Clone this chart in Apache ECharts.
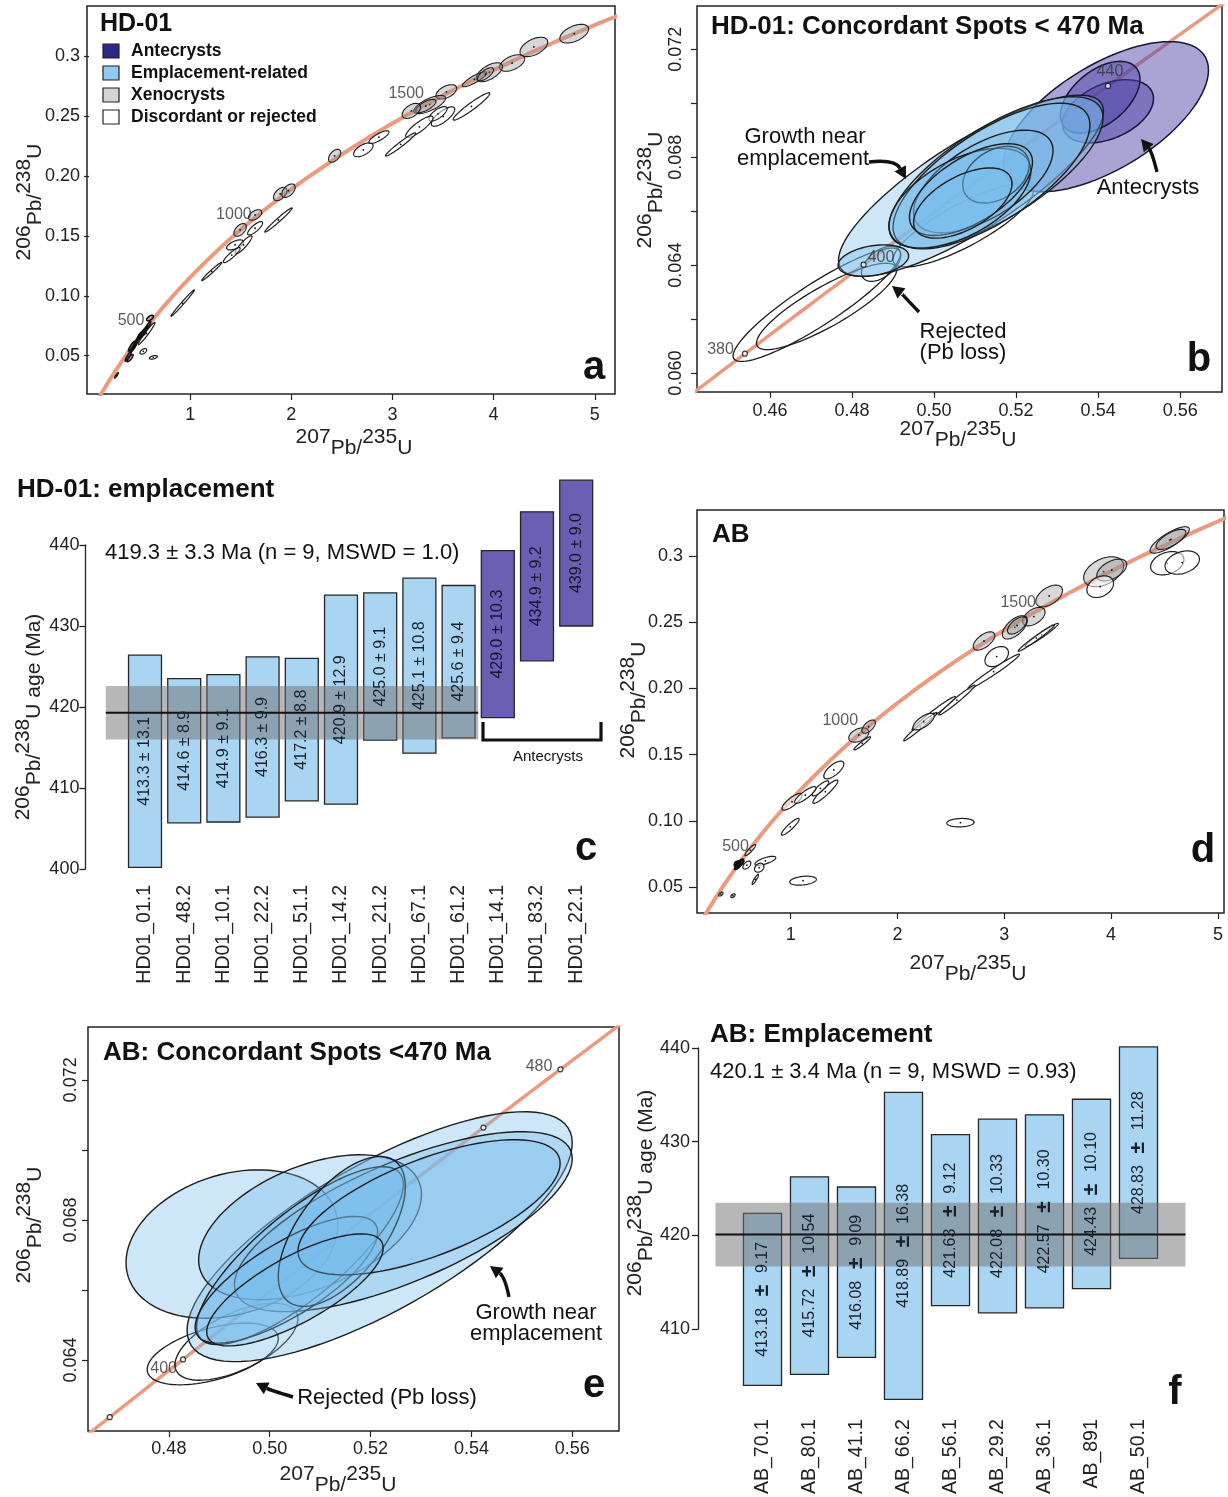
<!DOCTYPE html>
<html>
<head>
<meta charset="utf-8">
<title>Zircon U-Pb: HD-01 and AB</title>
<script src="https://cdn.jsdelivr.net/npm/echarts@6/dist/echarts.min.js"></script>
<style>
  html, body { margin: 0; padding: 0; background: #fff; }
  #chart { width: 1228px; height: 1497px; }
</style>
</head>
<body>
<div id="chart"></div>
<script>
const FONT = "'Liberation Sans', Arial, Helvetica, sans-serif";

// decay constants (per year) for the Wetherill concordia
const L238 = 1.55125e-10;
const L235 = 9.8485e-10;

// ---- ellipse data: [207Pb/235U, half-width, 206Pb/238U, half-height, rho] ----
// HD-01, all spots (panel a)
const hdXeno = [
  [4.797, 0.142, 0.3189, 0.0078, 0.5], [4.398, 0.137, 0.3078, 0.0081, 0.5],
  [4.183, 0.124, 0.2944, 0.0069, 0.5], [3.959, 0.129, 0.2867, 0.0079, 0.6],
  [3.810, 0.119, 0.2808, 0.0062, 0.85], [3.920, 0.080, 0.2850, 0.0055, 0.7],
  [3.533, 0.102, 0.2703, 0.0060, 0.5], [3.368, 0.157, 0.2597, 0.0076, 0.7],
  [3.330, 0.100, 0.2585, 0.0055, 0.7], [3.187, 0.091, 0.2544, 0.0063, 0.5],
  [2.428, 0.060, 0.2169, 0.0054, 0.5], [1.890, 0.066, 0.1850, 0.0056, 0.5],
  [1.972, 0.066, 0.1878, 0.0056, 0.5], [1.642, 0.066, 0.1675, 0.0044, 0.5],
  [1.494, 0.061, 0.1550, 0.0053, 0.5]
];
const hdDisc = [
  [3.781, 0.181, 0.2581, 0.0114, 0.95], [3.500, 0.116, 0.2497, 0.0081, 0.75],
  [3.450, 0.090, 0.2520, 0.0060, 0.7], [3.266, 0.135, 0.2411, 0.0089, 0.85],
  [3.081, 0.149, 0.2264, 0.0097, 0.97], [2.712, 0.096, 0.2219, 0.0058, 0.6],
  [2.866, 0.099, 0.2325, 0.0053, 0.8], [1.642, 0.074, 0.1564, 0.0056, 0.8],
  [1.444, 0.083, 0.1425, 0.0042, 0.6], [1.527, 0.083, 0.1425, 0.0076, 0.9],
  [1.411, 0.083, 0.1340, 0.0063, 0.9], [1.873, 0.135, 0.1633, 0.0101, 0.98],
  [1.213, 0.099, 0.1203, 0.0076, 0.98], [0.926, 0.116, 0.0939, 0.0111, 0.99],
  [0.569, 0.083, 0.0685, 0.0093, 0.97], [0.537, 0.033, 0.0536, 0.0023, 0.5],
  [0.636, 0.040, 0.0486, 0.0015, 0.5], [0.272, 0.020, 0.0336, 0.0024, 0.9]
];
// small dark spots along the concordia near 500 Ma (panel a)
const hdNear500 = [
  [0.603, 0.033, 0.0814, 0.0023, 0.6], [0.580, 0.030, 0.0745, 0.0040, 0.9],
  [0.550, 0.030, 0.0705, 0.0040, 0.9], [0.460, 0.025, 0.0600, 0.0035, 0.9],
  [0.440, 0.025, 0.0565, 0.0030, 0.9], [0.420, 0.030, 0.0578, 0.0040, 0.9],
  [0.388, 0.030, 0.0494, 0.0040, 0.9], [0.405, 0.030, 0.0480, 0.0030, 0.8]
];
// HD-01 concordant spots < 470 Ma (panel b)
const hdAnte = [
  [0.5419, 0.0250, 0.06950, 0.00278, 0.62],
  [0.5424, 0.0111, 0.06970, 0.00117, 0.4],
  [0.5405, 0.0097, 0.07022, 0.00133, 0.5]
];
const hdEmpl = [
  [0.5090, 0.0323, 0.06694, 0.00336, 0.82], [0.5151, 0.0261, 0.06744, 0.00280, 0.72],
  [0.5140, 0.0240, 0.06730, 0.00270, 0.7], [0.5120, 0.0170, 0.06710, 0.00190, 0.6],
  [0.5063, 0.0173, 0.06648, 0.00185, 0.55], [0.5151, 0.0081, 0.06735, 0.00105, 0.35],
  [0.4852, 0.0086, 0.06417, 0.00058, 0.3], [0.5090, 0.0150, 0.06680, 0.00170, 0.6],
  [0.5070, 0.0120, 0.06630, 0.00130, 0.55]
];
const hdRej = [
  [0.4714, 0.0204, 0.06253, 0.00210, 0.9], [0.4738, 0.0171, 0.06247, 0.00160, 0.85],
  [0.5071, 0.0171, 0.06547, 0.00154, 0.82], [0.4871, 0.0048, 0.06405, 0.00065, 0.5]
];

// AB, all spots (panel d)
const abXeno = [
  [4.548, 0.184, 0.3121, 0.0100, 0.8], [4.560, 0.140, 0.3125, 0.0076, 0.7],
  [3.930, 0.187, 0.2881, 0.0113, 0.4], [4.006, 0.140, 0.2894, 0.0082, 0.5],
  [3.420, 0.125, 0.2698, 0.0082, 0.5], [3.277, 0.105, 0.2542, 0.0070, 0.5],
  [3.099, 0.117, 0.2461, 0.0088, 0.6], [3.120, 0.090, 0.2475, 0.0065, 0.6],
  [2.810, 0.101, 0.2358, 0.0069, 0.6], [1.638, 0.094, 0.1648, 0.0054, 0.4],
  [1.730, 0.063, 0.1711, 0.0050, 0.6]
];
const abDisc = [
  [4.526, 0.156, 0.2945, 0.0088, 0.3], [4.666, 0.161, 0.2950, 0.0088, 0.3],
  [3.898, 0.125, 0.2768, 0.0082, 0.3], [2.929, 0.110, 0.2240, 0.0076, 0.4],
  [3.350, 0.156, 0.2403, 0.0088, 0.97], [3.300, 0.170, 0.2380, 0.0100, 0.98],
  [2.900, 0.242, 0.2126, 0.0132, 0.98], [2.556, 0.169, 0.1912, 0.0113, 0.98],
  [2.339, 0.203, 0.1812, 0.0126, 0.98], [2.214, 0.156, 0.1711, 0.0107, 0.98],
  [2.245, 0.100, 0.1749, 0.0063, 0.7], [1.670, 0.078, 0.1585, 0.0050, 0.95],
  [1.404, 0.094, 0.1384, 0.0067, 0.7], [1.325, 0.117, 0.1220, 0.0088, 0.92],
  [1.278, 0.078, 0.1245, 0.0057, 0.85], [1.013, 0.094, 0.1144, 0.0063, 0.8],
  [1.137, 0.101, 0.1195, 0.0063, 0.85], [0.996, 0.083, 0.0955, 0.0063, 0.9],
  [2.590, 0.128, 0.0986, 0.0032, 0.1], [1.116, 0.125, 0.0548, 0.0034, 0.3],
  [0.622, 0.050, 0.0779, 0.0042, 0.9], [0.763, 0.098, 0.0698, 0.0034, 0.7],
  [0.706, 0.044, 0.0646, 0.0034, 0.3], [0.669, 0.030, 0.0558, 0.0038, 0.9],
  [0.347, 0.020, 0.0447, 0.0015, 0.5], [0.460, 0.020, 0.0434, 0.0015, 0.5],
  [0.590, 0.037, 0.0666, 0.0030, 0.5]
];
// AB concordant spots < 470 Ma (panel e)
const abEmpl = [
  [0.5218, 0.0382, 0.06752, 0.00357, 0.75], [0.4925, 0.0210, 0.06731, 0.00212, 0.25],
  [0.5080, 0.0221, 0.06779, 0.00207, 0.45], [0.5265, 0.0335, 0.06795, 0.00257, 0.7],
  [0.5060, 0.0205, 0.06698, 0.00254, 0.8], [0.5033, 0.0181, 0.06629, 0.00181, 0.75],
  [0.5143, 0.0126, 0.06767, 0.00214, 0.6], [0.5316, 0.0260, 0.06836, 0.00193, 0.65],
  [0.5050, 0.0175, 0.06600, 0.00160, 0.75]
];
const abRej = [
  [0.4887, 0.0130, 0.06417, 0.00088, 0.5], [0.4934, 0.0122, 0.06452, 0.00110, 0.6]
];

// concordia age marks (Ma)
const wideMarks = [500, 1000, 1500];
const hdNarrowMarks = [380, 400, 440];
const abNarrowMarks = [390, 400, 440, 450];
const abNarrowMarkText = ['', '400', '', '480'];

// ---- weighted-mean age plots ----
const hdSpots = ['HD01_01.1', 'HD01_48.2', 'HD01_10.1', 'HD01_22.2', 'HD01_51.1', 'HD01_14.2',
  'HD01_21.2', 'HD01_67.1', 'HD01_61.2', 'HD01_14.1', 'HD01_83.2', 'HD01_22.1'];
const hdAges = [413.3, 414.6, 414.9, 416.3, 417.2, 420.9, 425.0, 425.1, 425.6, 429.0, 434.9, 439.0];
const hdErrs = [13.1, 8.9, 9.1, 9.9, 8.8, 12.9, 9.1, 10.8, 9.4, 10.3, 9.2, 9.0];
const hdKind = ['E', 'E', 'E', 'E', 'E', 'E', 'E', 'E', 'E', 'A', 'A', 'A'];
const hdMean = [419.3, 3.3];

const abSpots = ['AB_70.1', 'AB_80.1', 'AB_41.1', 'AB_66.2', 'AB_56.1', 'AB_29.2', 'AB_36.1', 'AB_891', 'AB_50.1'];
const abAges = [413.18, 415.72, 416.08, 418.89, 421.63, 422.08, 422.57, 424.43, 428.83];
const abErrs = [9.17, 10.54, 9.09, 16.38, 9.12, 10.33, 10.30, 10.10, 11.28];
const abMean = [420.1, 3.4];

// axis ticks
const wideX = [1, 2, 3, 4, 5];
const wideY = [0.05, 0.10, 0.15, 0.20, 0.25, 0.3];
const wideYText = ['0.05', '0.10', '0.15', '0.20', '0.25', '0.3'];
const narrowXb = [0.46, 0.48, 0.50, 0.52, 0.54, 0.56];
const narrowXe = [0.48, 0.50, 0.52, 0.54, 0.56];
const narrowYb = [0.060, 0.064, 0.068, 0.072];
const narrowYbTicks = [0.060, 0.062, 0.064, 0.066, 0.068, 0.070, 0.072];
const narrowYe = [0.064, 0.068, 0.072];
const narrowYeTicks = [0.064, 0.066, 0.068, 0.070, 0.072];

// ---------------------------------------------------------------
function conc(age) {
  return [Math.expm1(L235 * age * 1e6), Math.expm1(L238 * age * 1e6)];
}
function curve(a0, a1, step) {
  const pts = [];
  for (let t = a0; t <= a1; t += step) pts.push(conc(t));
  return pts;
}
function fmtFrom(vals, texts) {
  return function (v) {
    let k = 0, best = Infinity;
    vals.forEach((u, i) => { const d = Math.abs(u - v); if (d < best) { best = d; k = i; } });
    return texts ? texts[k] : String(vals[k]);
  };
}

const STY = {
  X: { fill: 'rgba(150,150,150,0.38)', stroke: '#1e1e1e', lw: 1.1, dot: true },
  D: { fill: 'rgba(255,255,255,0.55)', stroke: '#1e1e1e', lw: 1.2, dot: true },
  S: { fill: 'rgba(30,30,30,0.35)', stroke: '#111', lw: 1.6, dot: false },
  E: { fill: 'rgba(118,188,236,0.36)', stroke: '#1c1c1c', lw: 1.4, dot: false },
  A: { fill: 'rgba(78,64,168,0.48)', stroke: '#16163a', lw: 1.5, dot: false },
  R: { fill: 'rgba(255,255,255,0)', stroke: '#1c1c1c', lw: 1.3, dot: false }
};

function ellipses(gi, data, sty, z) {
  return {
    type: 'custom', xAxisIndex: gi, yAxisIndex: gi, data: data, encode: { x: 0, y: 2 },
    clip: true, silent: true, z: z || 2,
    renderItem: function (params, api) {
      const x = api.value(0), sx = api.value(1), y = api.value(2), sy = api.value(3), r = api.value(4);
      const k = Math.sqrt(1 - r * r);
      const pts = [];
      for (let i = 0; i < 90; i++) {
        const t = i / 90 * Math.PI * 2, c = Math.cos(t), s = Math.sin(t);
        pts.push(api.coord([x + sx * c, y + sy * (r * c + k * s)]));
      }
      const kids = [{ type: 'polygon', shape: { points: pts },
        style: { fill: sty.fill, stroke: sty.stroke, lineWidth: sty.lw } }];
      if (sty.dot) {
        const c0 = api.coord([x, y]);
        kids.push({ type: 'circle', shape: { cx: c0[0], cy: c0[1], r: 0.9 }, style: { fill: '#111' } });
      }
      return { type: 'group', children: kids };
    }
  };
}

function concLine(gi, pts, width) {
  return { type: 'line', xAxisIndex: gi, yAxisIndex: gi, data: pts, showSymbol: false, silent: true,
    clip: true, z: 1, lineStyle: { color: '#ec9a7f', width: width } };
}

function marks(gi, ages, texts, places, size) {
  return {
    type: 'scatter', xAxisIndex: gi, yAxisIndex: gi, symbol: 'circle', symbolSize: size, silent: true, z: 6,
    itemStyle: { color: '#fff', borderColor: '#111', borderWidth: 1.2 },
    label: { fontSize: 16, color: '#333', fontFamily: FONT },
    data: ages.map((a, i) => ({
      value: conc(a),
      label: { show: !!texts[i], formatter: String(texts[i]), position: places[i][0], offset: places[i][1], distance: 3 }
    }))
  };
}

function barSeries(gi, ages, errs, kinds, ratio) {
  return {
    type: 'custom', xAxisIndex: gi, yAxisIndex: gi, clip: false, silent: true, z: 2,
    data: ages.map((a, i) => [i, a, errs[i]]), encode: { x: 0, y: 1 },
    renderItem: function (params, api) {
      const i = api.value(0), age = api.value(1), err = api.value(2);
      const hi = api.coord([i, age + err]), lo = api.coord([i, age - err]);
      const w = api.size([1, 0])[0] * ratio;
      const purple = kinds && kinds[params.dataIndex] === 'A';
      return { type: 'rect', shape: { x: hi[0] - w / 2, y: hi[1], width: w, height: lo[1] - hi[1] },
        style: { fill: purple ? '#6a5fb2' : '#a9d5f3', stroke: '#262626', lineWidth: 1.3 } };
    }
  };
}

function barLabels(gi, ages, errs, kinds, labelFn, rich) {
  return {
    type: 'custom', xAxisIndex: gi, yAxisIndex: gi, clip: false, silent: true, z: 6,
    data: ages.map((a, i) => [i, a, errs[i]]), encode: { x: 0, y: 1 },
    renderItem: function (params, api) {
      const i = api.value(0), age = api.value(1), err = api.value(2);
      const mid = api.coord([i, age]);
      const purple = kinds && kinds[params.dataIndex] === 'A';
      return { type: 'text', x: mid[0], y: mid[1], rotation: Math.PI / 2,
        style: { text: labelFn(age, err), rich: rich, fontSize: 16, fontFamily: FONT,
          fill: purple ? '#15152e' : '#18212b', align: 'center', verticalAlign: 'middle' } };
    }
  };
}

function bandSeries(gi, mean, from, to) {
  return {
    type: 'custom', xAxisIndex: gi, yAxisIndex: gi, clip: false, silent: true, z: 4,
    data: [[0, mean[0], mean[1]]], encode: { x: 0, y: 1 },
    renderItem: function (params, api) {
      const m = api.value(1), e = api.value(2);
      const p0 = api.coord([0, m]), step = api.size([1, 0])[0];
      const xa = p0[0] + from * step, xb = p0[0] + to * step;
      const yt = api.coord([0, m + e])[1], yb = api.coord([0, m - e])[1];
      return { type: 'group', children: [
        { type: 'rect', shape: { x: xa, y: yt, width: xb - xa, height: yb - yt }, style: { fill: 'rgba(112,112,112,0.5)' } },
        { type: 'line', shape: { x1: xa, y1: p0[1], x2: xb, y2: p0[1] }, style: { stroke: '#111', lineWidth: 2 } }
      ] };
    }
  };
}

function valAxis(gi, min, max, labelVals, labelTexts, o) {
  o = o || {};
  return {
    gridIndex: gi, type: 'value', min: min, max: max,
    axisLine: { show: false }, splitLine: { show: false },
    axisTick: { show: true, customValues: o.ticks || labelVals, length: o.tickLen || 6,
      lineStyle: { color: '#222', width: 1.2 } },
    axisLabel: { customValues: labelVals, formatter: fmtFrom(labelVals, labelTexts),
      fontSize: o.fs || 18, color: '#222', fontFamily: FONT, margin: o.margin || 8, rotate: o.rotate || 0 }
  };
}

function catAxis(gi, names, margin) {
  return { gridIndex: gi, type: 'category', data: names, boundaryGap: true,
    axisLine: { show: false }, axisTick: { show: false }, splitLine: { show: false },
    axisLabel: { rotate: 90, fontSize: 19.5, color: '#222', fontFamily: FONT, margin: margin, interval: 0 } };
}

function ageAxis(gi, min, max, offset, margin) {
  return { gridIndex: gi, type: 'value', min: min, max: max, interval: 10, offset: offset,
    axisLine: { show: true, lineStyle: { color: '#222', width: 1.3 } },
    axisTick: { show: true, length: 6, lineStyle: { color: '#222', width: 1.3 } },
    splitLine: { show: false },
    axisLabel: { fontSize: 18, color: '#222', fontFamily: FONT, margin: margin } };
}

// ---- annotations ----
const pbRich = {
  n: { fontSize: 21, lineHeight: 32, verticalAlign: 'top', fontFamily: FONT, fill: '#222' },
  e: { fontSize: 21, lineHeight: 32, verticalAlign: 'bottom', fontFamily: FONT, fill: '#222' }
};
function pbTitle(top, bottom, tail, x, y, rotated) {
  return { type: 'text', x: x, y: y, rotation: rotated ? Math.PI / 2 : 0, z: 100,
    style: { text: '{n|' + top + '}{e|Pb/}{n|' + bottom + '}{e|U' + tail + '}', rich: pbRich,
      align: 'center', verticalAlign: 'middle' } };
}
function txt(s, x, y, size, bold, align) {
  return { type: 'text', x: x, y: y, z: 100,
    style: { text: s, fontSize: size, fontWeight: bold ? 'bold' : 'normal', fontFamily: FONT,
      fill: '#111', align: align || 'left', verticalAlign: 'middle' } };
}
function arrow(x1, y1, cx, cy, x2, y2) {
  const ang = Math.atan2(y2 - cy, x2 - cx), L = 12, W = 6.5;
  const bx = x2 - L * Math.cos(ang), by = y2 - L * Math.sin(ang);
  return [
    { type: 'bezierCurve', z: 100, shape: { x1: x1, y1: y1, cpx1: cx, cpy1: cy, x2: bx, y2: by },
      style: { stroke: '#111', lineWidth: 3.4, fill: 'none' } },
    { type: 'polygon', z: 100, shape: { points: [[x2, y2],
      [bx + W * Math.sin(ang), by - W * Math.cos(ang)], [bx - W * Math.sin(ang), by + W * Math.cos(ang)]] },
      style: { fill: '#111' } }
  ];
}
function swatch(x, y, color) {
  return { type: 'rect', z: 100, shape: { x: x, y: y, width: 16, height: 14 },
    style: { fill: color, stroke: '#222', lineWidth: 1.2 } };
}

const elements = [
  // panel a
  txt('HD-01', 100, 24, 25, true),
  swatch(103, 44, '#2b2a86'), txt('Antecrysts', 131, 51, 17.5, true),
  swatch(103, 66, '#8fcbf0'), txt('Emplacement-related', 131, 73, 17.5, true),
  swatch(103, 88, '#d4d4d4'), txt('Xenocrysts', 131, 95, 17.5, true),
  swatch(103, 110, '#ffffff'), txt('Discordant or rejected', 131, 117, 17.5, true),
  txt('a', 594, 368, 40, true, 'center'),
  pbTitle('207', '235', '', 354, 443, false),
  pbTitle('206', '238', '', 30, 202, true),
  // panel b
  txt('HD-01: Concordant Spots < 470 Ma', 711, 27, 26, true),
  txt('Growth near', 805, 137, 22, false, 'center'),
  txt('emplacement', 803, 159, 22, false, 'center'),
  txt('Antecrysts', 1148, 188, 22, false, 'center'),
  txt('Rejected', 963, 332, 22, false, 'center'),
  txt('(Pb loss)', 963, 353, 22, false, 'center'),
  ...arrow(869, 162, 895, 159, 906, 179),
  ...arrow(1157, 172, 1152, 152, 1141, 139),
  ...arrow(919, 312, 901, 293, 892, 286),
  txt('b', 1199, 360, 40, true, 'center'),
  pbTitle('207', '235', '', 958, 435, false),
  pbTitle('206', '238', '', 651, 190, true),
  // panel c
  txt('HD-01: emplacement', 17, 490, 26, true),
  txt('419.3 \u00b1 3.3 Ma (n = 9, MSWD = 1.0)', 105, 553, 22, false),
  { type: 'polyline', z: 100, shape: { points: [[483, 722], [483, 740], [601, 740], [601, 722]] },
    style: { stroke: '#111', lineWidth: 3.2, fill: 'none' } },
  txt('Antecrysts', 548, 757, 15, false, 'center'),
  txt('c', 586, 849, 40, true, 'center'),
  pbTitle('206', '238', ' age (Ma)', 29, 717, true),
  // panel d
  txt('AB', 712, 535, 26, true),
  txt('d', 1203, 851, 40, true, 'center'),
  pbTitle('207', '235', '', 968, 969, false),
  pbTitle('206', '238', '', 634, 700, true),
  // panel e
  txt('AB: Concordant Spots <470 Ma', 103, 1053, 26, true),
  txt('Growth near', 536, 1313, 22, false, 'center'),
  txt('emplacement', 536, 1334, 22, false, 'center'),
  txt('Rejected (Pb loss)', 387, 1398, 22, false, 'center'),
  ...arrow(509, 1297, 505, 1277, 490, 1266),
  ...arrow(293, 1397, 270, 1390, 256, 1383),
  txt('e', 594, 1386, 40, true, 'center'),
  pbTitle('207', '235', '', 338, 1480, false),
  pbTitle('206', '238', '', 30, 1225, true),
  // panel f
  txt('AB: Emplacement', 710, 1035, 26, true),
  txt('420.1 \u00b1 3.4 Ma (n = 9, MSWD = 0.93)', 710, 1072, 22, false),
  txt('f', 1175, 1393, 40, true, 'center'),
  pbTitle('206', '238', ' age (Ma)', 641, 1193, true)
];

const frame = { show: true, borderColor: '#222', borderWidth: 1.5, backgroundColor: 'transparent' };

const option = {
  animation: false,
  backgroundColor: '#fff',
  textStyle: { fontFamily: FONT },
  grid: [
    Object.assign({ left: 87, top: 6, width: 528, height: 388 }, frame),      // a
    Object.assign({ left: 697, top: 6, width: 525, height: 386 }, frame),     // b
    { left: 125.4, top: 545, width: 470.4, height: 324 },                      // c
    Object.assign({ left: 697, top: 510, width: 527, height: 403 }, frame),   // d
    Object.assign({ left: 88, top: 1027, width: 531, height: 404 }, frame),   // e
    { left: 739, top: 1048, width: 423, height: 281.5 }                        // f
  ],
  xAxis: [
    valAxis(0, -0.02, 5.2, wideX, null, { margin: 12 }),
    valAxis(1, 0.4422, 0.5702, narrowXb, ['0.46', '0.48', '0.50', '0.52', '0.54', '0.56'], { margin: 10 }),
    catAxis(2, hdSpots, 16),
    valAxis(3, 0.123, 5.057, wideX, null, { margin: 13 }),
    valAxis(4, 0.46396, 0.56927, narrowXe, ['0.48', '0.50', '0.52', '0.54', '0.56'], { margin: 9 }),
    catAxis(5, abSpots, 90)
  ],
  yAxis: [
    valAxis(0, 0.018, 0.342, wideY, wideYText, { margin: 7, tickLen: 5 }),
    valAxis(1, 0.0593, 0.0736, narrowYb, ['0.060', '0.064', '0.068', '0.072'],
      { ticks: narrowYbTicks, rotate: 90, margin: 12 }),
    ageAxis(2, 400, 440, 40, 6),
    valAxis(3, 0.0304, 0.3347, wideY, wideYText, { margin: 14, tickLen: 8 }),
    valAxis(4, 0.06197, 0.07351, narrowYe, ['0.064', '0.068', '0.072'],
      { ticks: narrowYeTicks, rotate: 90, margin: 8 }),
    ageAxis(5, 410, 440, 41, 8)
  ],
  graphic: { elements: elements },
  series: [
    // a
    concLine(0, curve(0, 2100, 10), 4),
    ellipses(0, hdXeno, STY.X, 2),
    ellipses(0, hdDisc, STY.D, 3),
    ellipses(0, hdNear500, STY.S, 3),
    ellipses(0, hdRej, STY.S, 3),
    ellipses(0, hdEmpl, STY.S, 3),
    ellipses(0, hdAnte, STY.S, 3),
    marks(0, wideMarks, wideMarks, [['left', [-6, 2]], ['left', [-4, 0]], ['left', [-4, -8]]], 0),
    // b
    concLine(1, curve(360, 480, 2), 3.5),
    ellipses(1, hdRej, STY.R, 2),
    ellipses(1, hdAnte, STY.A, 3),
    ellipses(1, hdEmpl, STY.E, 4),
    marks(1, hdNarrowMarks, hdNarrowMarks, [['left', [-5, -4]], ['right', [-2, -7]], ['top', [2, 0]]], 5),
    // c
    barSeries(2, hdAges, hdErrs, hdKind, 0.84),
    bandSeries(2, hdMean, -1, 8.5),
    barLabels(2, hdAges, hdErrs, hdKind, (a, e) => a.toFixed(1) + ' \u00b1 ' + e.toFixed(1), null),
    // d
    concLine(3, curve(0, 2100, 10), 4),
    ellipses(3, abXeno, STY.X, 2),
    ellipses(3, abDisc, STY.D, 3),
    ellipses(3, abRej, STY.S, 3),
    ellipses(3, abEmpl, STY.S, 3),
    marks(3, wideMarks, wideMarks, [['left', [0, 0]], ['left', [-2, -10]], ['left', [-6, -4]]], 0),
    // e
    concLine(4, curve(360, 480, 2), 3.5),
    ellipses(4, abRej, STY.R, 2),
    ellipses(4, abEmpl, STY.E, 3),
    marks(4, abNarrowMarks, abNarrowMarkText, [['left', [0, 0]], ['left', [0, 9]], ['left', [0, 0]], ['left', [-2, -3]]], 5),
    // f
    barSeries(5, abAges, abErrs, null, 0.81),
    bandSeries(5, abMean, -1, 9),
    barLabels(5, abAges, abErrs, null,
      (a, e) => '{v|' + a.toFixed(2) + '}{p|  \u00b1  }{v|' + e.toFixed(2) + '}',
      { v: { fontSize: 16, fontFamily: FONT, fill: '#18212b' },
        p: { fontSize: 21, fontWeight: 'bold', fontFamily: FONT, fill: '#18212b' } })
  ]
};

const chart = echarts.init(document.getElementById('chart'));
chart.setOption(option);
</script>
</body>
</html>
